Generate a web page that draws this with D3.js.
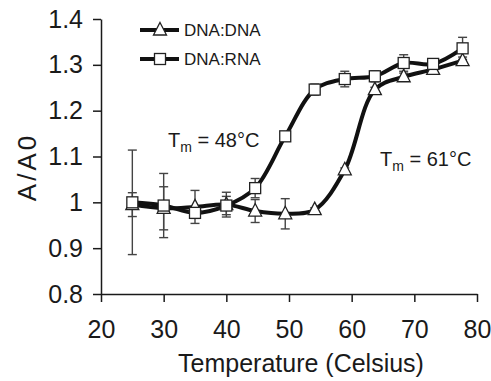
<!DOCTYPE html>
<html><head><meta charset="utf-8">
<script src="https://cdn.jsdelivr.net/npm/d3@7"></script>
<style>body{margin:0;background:#fff}svg{display:block}text{font-family:"Liberation Sans",Arial,sans-serif;fill:#1a1a1a}</style>
</head><body><svg id="c" width="491" height="381"></svg>
<script>
const temps = [25, 30, 35, 40, 44.6, 49.4, 54.1, 58.9, 63.7, 68.3, 73, 77.7];
const dnaDna = [0.995, 0.987, 0.99, 0.995, 0.981, 0.975, 0.984, 1.071, 1.246, 1.274, 1.29, 1.309];
const dnaDnaErr = [0.026, 0.047, 0.036, 0.027, 0.025, 0.033, 0.004, 0.004, 0.005, 0.008, 0.006, 0.008];
const dnaRna = [1.0, 0.993, 0.977, 0.993, 1.031, 1.144, 1.246, 1.269, 1.275, 1.304, 1.302, 1.336];
const dnaRnaErr = [0.114, 0.07, 0.012, 0.02, 0.021, 0.008, 0.012, 0.017, 0.012, 0.018, 0.008, 0.024];
const xTicks = [20, 30, 40, 50, 60, 70, 80];
const yTicks = [0.8, 0.9, 1.0, 1.1, 1.2, 1.3, 1.4];
const seriesNames = ["DNA:DNA", "DNA:RNA"];
const tmLabels = [{t: 48, s: "48°C"}, {t: 61, s: "61°C"}];

const svg = d3.select("#c");
const x = d3.scaleLinear().domain([20, 80]).range([101, 477]);
const y = d3.scaleLinear().domain([0.8, 1.4]).range([294, 19]);

const fmt = d => (d === 1 ? "1" : d3.format(".1f")(d));
const xa = svg.append("g").attr("transform", "translate(0,294)")
  .call(d3.axisBottom(x).tickValues(xTicks).tickSize(8).tickPadding(18).tickSizeOuter(0));
const ya = svg.append("g").attr("transform", "translate(101,0)")
  .call(d3.axisLeft(y).tickValues(yTicks).tickFormat(fmt).tickSize(8).tickPadding(10).tickSizeOuter(0));
[xa, ya].forEach(a => {
  a.selectAll("path,line").attr("stroke", "#1a1a1a").attr("stroke-width", 1.5);
  a.selectAll("text").attr("font-size", 25).attr("font-family", '"Liberation Sans",Arial,sans-serif').attr("fill", "#1a1a1a");
});

svg.append("text").attr("x", 301).attr("y", 372).attr("text-anchor", "middle").attr("font-size", 25).text("Temperature (Celsius)");
svg.append("text").attr("transform", "translate(36,167) rotate(-90)").attr("text-anchor", "middle").attr("font-size", 26).attr("letter-spacing", 3).text("A/A0");

const series = [
  {name: seriesNames[0], vals: dnaDna, err: dnaDnaErr, shape: "tri"},
  {name: seriesNames[1], vals: dnaRna, err: dnaRnaErr, shape: "sq"}
];
const line = d3.line().x(d => x(d[0])).y(d => y(d[1])).curve(d3.curveCatmullRom.alpha(0.5));

// error bars
series.forEach(s => {
  const g = svg.append("g").attr("stroke", "#444").attr("stroke-width", 1.4);
  temps.forEach((t, i) => {
    const cx = x(t), y1 = y(s.vals[i] + s.err[i]), y2 = y(s.vals[i] - s.err[i]);
    g.append("line").attr("x1", cx).attr("x2", cx).attr("y1", y1).attr("y2", y2);
    g.append("line").attr("x1", cx - 4.5).attr("x2", cx + 4.5).attr("y1", y1).attr("y2", y1);
    g.append("line").attr("x1", cx - 4.5).attr("x2", cx + 4.5).attr("y1", y2).attr("y2", y2);
  });
});
// lines
series.forEach(s => {
  svg.append("path").datum(temps.map((t, i) => [t, s.vals[i]])).attr("d", line)
    .attr("fill", "none").attr("stroke", "#111").attr("stroke-width", 4);
});
function marker(g, shape, cx, cy) {
  if (shape === "tri") {
    g.append("path").attr("d", `M${cx},${cy - 7.5}L${cx + 6.5},${cy + 5}L${cx - 6.5},${cy + 5}Z`)
      .attr("fill", "#fff").attr("stroke", "#222").attr("stroke-width", 1.3);
  } else {
    g.append("rect").attr("x", cx - 5.5).attr("y", cy - 5.5).attr("width", 11).attr("height", 11)
      .attr("fill", "#fff").attr("stroke", "#222").attr("stroke-width", 1.3);
  }
}
series.forEach(s => {
  const g = svg.append("g");
  temps.forEach((t, i) => marker(g, s.shape, x(t), y(s.vals[i])));
});

// legend
series.forEach((s, i) => {
  const ly = 30 + i * 29;
  svg.append("line").attr("x1", 140).attr("x2", 179).attr("y1", ly).attr("y2", ly).attr("stroke", "#111").attr("stroke-width", 4);
  marker(svg, s.shape, 160, ly);
  svg.append("text").attr("x", 184).attr("y", ly + 6).attr("font-size", 17).text(s.name);
});

// Tm labels
const tmPos = [[168, 147], [380, 166]];
tmLabels.forEach((d, i) => {
  const t = svg.append("text").attr("x", tmPos[i][0]).attr("y", tmPos[i][1]).attr("font-size", 20);
  t.append("tspan").text("T");
  t.append("tspan").attr("font-size", 14).attr("dy", 5).text("m");
  t.append("tspan").attr("dy", -5).text(" = " + d.s);
});
</script></body></html>
